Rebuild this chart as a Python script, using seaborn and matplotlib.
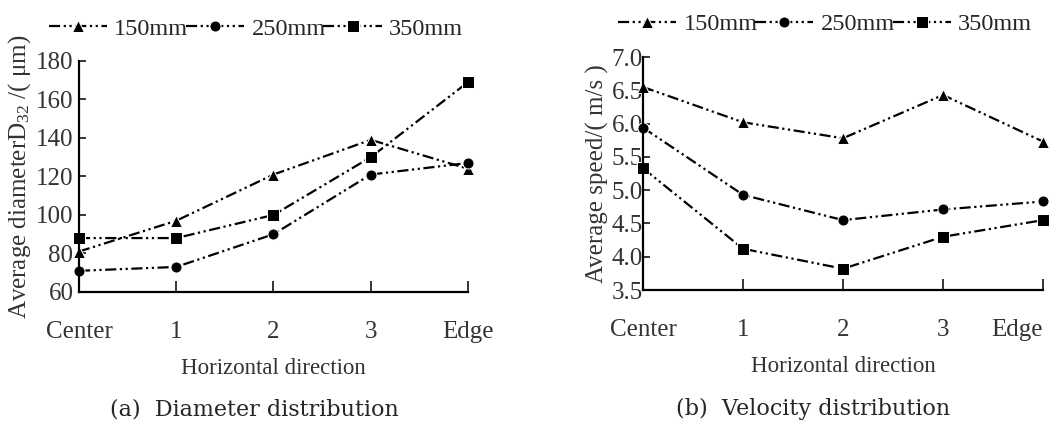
import numpy as np
import pandas as pd
import matplotlib
matplotlib.use("Agg")
import matplotlib.pyplot as plt
import seaborn as sns

# data
positions = ["Center", "1", "2", "3", "Edge"]
series = ["150mm", "250mm", "350mm"]

diam_150 = [81, 97, 121, 139, 124]
diam_250 = [71, 73, 90, 121, 127]
diam_350 = [88, 88, 100, 130, 169]

speed_150 = [6.55, 6.02, 5.78, 6.43, 5.73]
speed_250 = [5.94, 4.93, 4.55, 4.71, 4.83]
speed_350 = [5.33, 4.12, 3.82, 4.30, 4.55]

diam_ticks = [60, 80, 100, 120, 140, 160, 180]
speed_ticks = [3.5, 4.0, 4.5, 5.0, 5.5, 6.0, 6.5, 7.0]


def long_frame(values):
    rows = []
    for name, vals in zip(series, values):
        for i, v in enumerate(vals):
            rows.append({"pos": i, "value": v, "series": name})
    return pd.DataFrame(rows)


df_diam = long_frame([diam_150, diam_250, diam_350])
df_speed = long_frame([speed_150, speed_250, speed_350])

sns.set_style("ticks")
plt.rcParams["font.family"] = ["Liberation Serif", "DejaVu Serif"]
plt.rcParams["mathtext.fontset"] = "stix"

fig = plt.figure(figsize=(10.57, 4.26), dpi=100)
ax1 = fig.add_axes([0.0747, 0.3146, 0.3681, 0.5424])
ax2 = fig.add_axes([0.6083, 0.3192, 0.3785, 0.5469])

markers = {"150mm": "^", "250mm": "o", "350mm": "s"}
dash = (5, 1.6, 1, 1.6, 1, 1.6)
dashes = {s: dash for s in series}
txt = "#333333"

for ax, df, ticks, ylabel, caption, ypad, capx in [
    (ax1, df_diam, diam_ticks, "Average diameter$\\mathregular{D_{32}}$ /( μm)",
     "(a)  Diameter distribution", 4, 0.45),
    (ax2, df_speed, speed_ticks, "Average speed/( m/s )",
     "(b)  Velocity distribution", 0, 0.425),
]:
    sns.lineplot(data=df, x="pos", y="value", hue="series", style="series",
                 palette=["black"] * 3, markers=markers, dashes=dashes,
                 markersize=8, linewidth=1.6, ax=ax, legend=True)
    for ln in ax.get_lines():
        ln.set_clip_on(False)
    ax.set_xlim(0, 4)
    ax.set_ylim(ticks[0], ticks[-1])
    ax.set_xticks(range(len(positions)))
    ax.set_xticklabels(positions, fontsize=18, color=txt)
    ax.set_yticks(ticks)
    if ax is ax2:
        ax.set_yticklabels(["%.1f" % t for t in ticks], fontsize=18, color=txt)
        ax.get_xticklabels()[-1].set_ha("right")
    else:
        ax.set_yticklabels([str(t) for t in ticks], fontsize=18, color=txt)
    ax.tick_params(axis="x", direction="in", length=8, width=1.3, pad=21)
    ax.tick_params(axis="y", direction="in", length=5, width=1.3, pad=ypad)
    for sp in ["top", "right"]:
        ax.spines[sp].set_visible(False)
    for sp in ["left", "bottom"]:
        ax.spines[sp].set_linewidth(1.6)
        ax.spines[sp].set_color("black")
    ax.set_xlabel("Horizontal direction", fontsize=16.5, color=txt, labelpad=11)
    ax.set_ylabel(ylabel, fontsize=18, color=txt, labelpad=2)
    handles, labels = ax.get_legend_handles_labels()
    ax.get_legend().remove()
    ax.legend(handles, labels, loc="center", ncol=3, frameon=False, fontsize=17.5,
              handlelength=2.4, handletextpad=0.3, columnspacing=-0.1,
              bbox_to_anchor=(0.455, 1.14), borderaxespad=0, borderpad=0)
    ax.text(capx, -0.51, caption, transform=ax.transAxes, ha="center", va="center",
            fontsize=16, family="DejaVu Serif")

fig.savefig("out.png", dpi=100)
